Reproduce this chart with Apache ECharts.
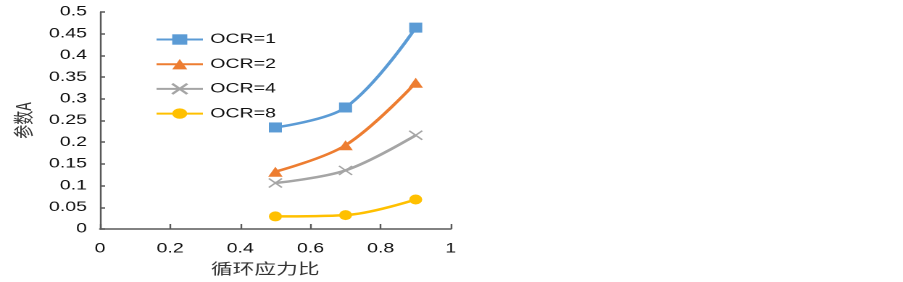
<!DOCTYPE html>
<html>
<head>
<meta charset="utf-8">
<script src="https://cdn.jsdelivr.net/npm/echarts@6/dist/echarts.min.js"></script>
<style>
html, body { margin: 0; padding: 0; background: #fff; overflow: hidden; }
/* the source picture is stretched sideways, so draw narrow and widen it */
#chart { width: 623px; height: 282px; transform: scaleX(1.4494); transform-origin: 0 0; }
</style>
</head>
<body>
<div id="chart"></div>
<script>
// stress ratio values on x
var ratios = [0.5, 0.7, 0.9];
var names = ['OCR=1', 'OCR=2', 'OCR=4', 'OCR=8'];
var ocr1 = [0.234, 0.280, 0.464];
var ocr2 = [0.132, 0.193, 0.337];
var ocr4 = [0.106, 0.135, 0.216];
var ocr8 = [0.029, 0.032, 0.068];

var colors = ['#5B9BD5', '#ED7D31', '#A5A5A5', '#FFC000'];
var symbols = ['rect', 'triangle', 'path://M0,0L10,10M10,0L0,10', 'circle'];
var sizes = [[9, 10], [10, 10], [9, 9], [9, 10]];
var allData = [ocr1, ocr2, ocr4, ocr8];

var chart = echarts.init(document.getElementById('chart'), null, { devicePixelRatio: 2 });

var series = [];
names.forEach(function(n, i) {
	var pts = ratios.map(function(r, k) { return [r, allData[i][k]]; });
	series.push({
		name: n,
		type: 'line',
		data: pts,
		smooth: 0.35,
		symbol: symbols[i],
		symbolSize: sizes[i],
		showAllSymbol: true,
		lineStyle: { color: colors[i], width: 2.5 },
		itemStyle: i == 2 ? { color: 'transparent', borderColor: colors[i], borderWidth: 1.3 } : { color: colors[i] }
	});
});

chart.setOption({
	animation: false,
	color: colors,
	textStyle: { fontFamily: 'Liberation Sans' },
	grid: { left: 69, right: 312, top: 12, bottom: 53 },
	legend: {
		orient: 'vertical',
		left: 107,
		top: 32.5,
		padding: 0,
		itemWidth: 32,
		itemHeight: 13,
		itemGap: 10.7,
		textStyle: { fontSize: 13.5, color: '#111', fontFamily: 'Liberation Sans' },
		data: names
	},
	xAxis: {
		type: 'value',
		min: 0,
		max: 1,
		interval: 0.2,
		name: '循环应力比',
		nameLocation: 'middle',
		nameGap: 30,
		nameTextStyle: { fontSize: 15, color: '#333', fontFamily: 'Noto Sans CJK SC', padding: [0, 14, 0, 0] },
		axisLine: { lineStyle: { color: '#595959', width: 1.5 } },
		axisTick: { inside: true, length: 5, lineStyle: { color: '#595959', width: 1.2 } },
		axisLabel: { fontSize: 13.5, color: '#111', margin: 13 },
		splitLine: { show: false }
	},
	yAxis: {
		type: 'value',
		min: 0,
		max: 0.5,
		interval: 0.05,
		name: '参数A',
		nameLocation: 'middle',
		nameGap: 46,
		nameTextStyle: { fontSize: 14, color: '#333', fontFamily: 'Noto Sans CJK SC' },
		axisLine: { show: true, lineStyle: { color: '#595959', width: 1.2 } },
		axisTick: { show: true, inside: true, length: 3.5, lineStyle: { color: '#595959', width: 1.5 } },
		axisLabel: { fontSize: 13.5, color: '#111', margin: 9 },
		splitLine: { show: false }
	},
	series: series
});
</script>
</body>
</html>
